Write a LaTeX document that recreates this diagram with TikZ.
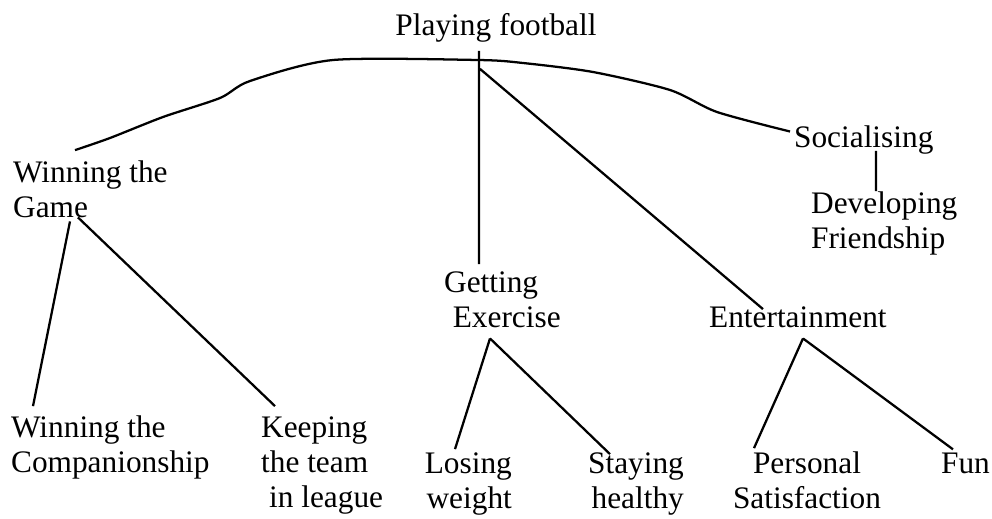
\documentclass[tikz,border=0pt]{standalone}
\usepackage{fontspec}
\setmainfont{Liberation Serif}
\usetikzlibrary{calc}
\begin{document}
\begin{tikzpicture}[x=0.75pt,y=-0.75pt,line width=1.7pt,
	every node/.style={inner sep=0pt,font=\fontsize{23.5}{26.25}\selectfont}]
	\useasboundingbox (0,0) rectangle (992,518);
	\foreach \x/\y/\an/\al/\nm/\gt in {496/35/base/center/top/Playing football,12/217/base west/left/win/Winning the\\Game,793/147/base west/left/soc/Socialising,810/248/base west/left/dev/Developing\\Friendship,443/327/base west/left/get/Getting\\\hspace*{6.5pt}Exercise,708/327/base west/left/ent/Entertainment,10/472/base west/left/comp/Winning the\\Companionship,260/507/base west/left/keep/Keeping\\the team\\\hspace*{6pt}in league,513/508/base east/right/lose/Losing\\weight,685/508/base east/right/stay/Staying\\healthy,807/508/base/center/pers/Personal\\Satisfaction,940/473/base west/left/fun/Fun}\path (\x,\y) node[anchor=\an,align=\al](\nm){\gt};
	\draw plot[smooth,tension=.45] coordinates {($(win.north west)+(63,-9)$) (110,138) (163,117) (220,98) (250,81) (333,60) (478,60) (523,63) (593,72) (670,90) (717,112) ($(soc.west)+(-3,-8)$)};
	\draw ($(top.south)+(-17,8)$)--($(get.north west)+(36,-6)$) ($(top.south)+(-16,26)$)--($(ent.north west)+(55,4)$)
		($(soc.south west)+(83,-4)$)--($(dev.north west)+(66,1)$)
		($(win.south west)+(58,3)$)--($(comp.north west)+(23,-8)$) ($(win.south west)+(66,-1)$)--($(keep.north west)+(15,-9)$)
		($(get.south west)+(47,10)$)--($(lose.north east)+(-58,-2)$) ($(get.south west)+(47,10)$)--($(stay.north east)+(-75,3)$)
		($(ent.south west)+(95,10)$)--($(pers.north)+(-53,-2)$) ($(ent.south west)+(95,10)$)--($(fun.north west)+(13,-2)$);
\end{tikzpicture}
\end{document}
